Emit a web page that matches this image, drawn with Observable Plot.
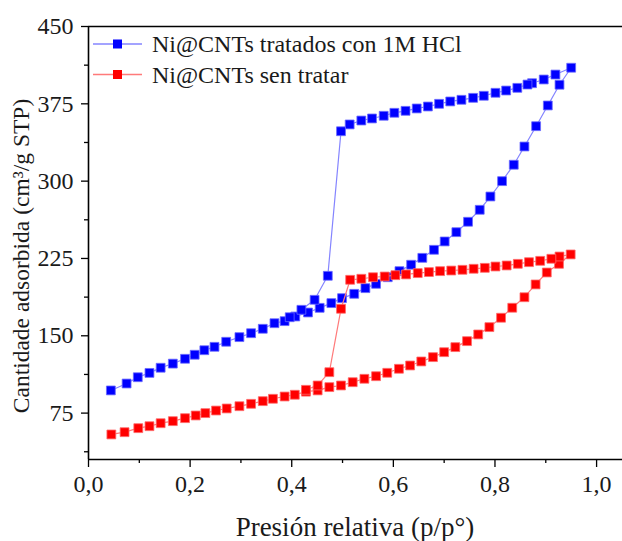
<!DOCTYPE html>
<html><head><meta charset="utf-8">
<script src="https://cdn.jsdelivr.net/npm/d3@7"></script>
<script src="https://cdn.jsdelivr.net/npm/@observablehq/plot@0.6"></script>
<style>body{margin:0;background:#fff;} #chart{width:622px;height:541px;}</style>
</head><body><div id="chart"></div>
<script>
const seriesNames = ["Ni@CNTs tratados con 1M HCl", "Ni@CNTs sen tratar"];
const seriesColors = ["#0000ff", "#ff0000"];
const lineColors = ["#8484ff", "#ff7a7a"];

// Treated sample: adsorption then desorption (path order)
const treatedP = [0.044,0.075,0.097,0.12,0.142,0.166,0.19,0.209,0.228,0.248,0.271,0.297,0.32,0.343,0.366,0.386,0.407,0.432,0.455,0.478,0.499,0.523,0.545,0.566,0.589,0.612,0.635,0.657,0.68,0.701,0.724,0.747,0.77,0.791,0.814,0.837,0.858,0.881,0.904,0.927,0.95,
  0.919,0.896,0.873,0.864,0.844,0.822,0.801,0.778,0.757,0.734,0.712,0.69,0.668,0.646,0.624,0.602,0.581,0.558,0.537,0.514,0.497,0.471,0.445,0.419,0.396];
const treatedV = [97,103.7,109.8,114,119,123,127.7,131.6,136,139.3,144.2,148.7,152.5,156.8,162.2,164.2,168.7,172.6,177.1,181.7,186.5,190.7,196.2,200.4,206.8,212.7,218.9,225.6,233.4,241.5,250.5,260.6,272.2,285.1,300,315.9,333.6,353.3,373.4,393.5,410,
  403.4,398.6,395,393.7,390.5,387.9,385.7,382.8,380.8,378.9,377.3,375,372.4,370.5,368.2,366.3,363.4,360.8,358.8,355,348.4,208.2,184.9,175.2,168];

// Untreated sample: adsorption then desorption (path order)
const untreatedP = [0.045,0.071,0.098,0.12,0.142,0.166,0.19,0.211,0.23,0.251,0.272,0.297,0.32,0.343,0.363,0.386,0.406,0.428,0.451,0.474,0.497,0.52,0.543,0.566,0.588,0.611,0.633,0.655,0.678,0.7,0.722,0.745,0.767,0.789,0.812,0.834,0.858,0.88,0.902,0.926,0.949,
  0.927,0.911,0.889,0.867,0.845,0.823,0.801,0.78,0.758,0.736,0.714,0.692,0.67,0.648,0.625,0.604,0.583,0.56,0.537,0.515,0.497,0.474,0.451,0.428];
const untreatedV = [54.3,56.5,60.4,62.3,65.2,67.2,70.1,72.7,75,77.5,79.5,81.7,84,86.6,88.9,91.1,92.8,95.8,97,100.2,101.8,105,108.3,110.8,114.1,118,121.2,125.1,129.3,134.1,139,144.8,151.3,158.4,167.5,177.2,187.4,199.8,211.4,219.8,228.9,
  226.9,224.7,222.7,221.4,219.8,218.2,217.2,215.9,215,214,213.3,212.7,211.8,210.8,209.5,208.8,207.5,206.8,205.3,204.3,176.2,114.7,101.8,97.6];

const xMajorTicks = [0, 0.2, 0.4, 0.6, 0.8, 1.0];
const xMinorTicks = [0.1, 0.3, 0.5, 0.7, 0.9];
const yMajorTicks = [75, 150, 225, 300, 375, 450];
const yMinorTicks = [37.5, 112.5, 187.5, 262.5, 337.5, 412.5];
const xTitle = "Presión relativa (p/p°)";
const yTitle = "Cantidade adsorbida (cm³/g STP)";

const treated = treatedP.map((p, i) => ({p, v: treatedV[i]}));
const untreated = untreatedP.map((p, i) => ({p, v: untreatedV[i]}));
const font = "Liberation Serif, Times New Roman, serif";
const fmt = d => d.toFixed(1).replace(".", ",");

const plot = Plot.plot({
  width: 622, height: 541,
  marginLeft: 88, marginRight: 0, marginTop: 26, marginBottom: 82,
  style: {fontFamily: font, fontSize: "24px", color: "#1a1a1a", background: "#fff", overflow: "visible"},
  x: {domain: [0, 1.051]},
  y: {domain: [30, 450]},
  marks: [
    Plot.axisX({ticks: xMajorTicks, tickSize: 8, tickPadding: 7, tickFormat: fmt, label: null, stroke: "#000", strokeWidth: 1.3, fontSize: 24}),
    Plot.axisX({ticks: xMinorTicks, tickSize: 4, tickFormat: () => "", label: null, stroke: "#000", strokeWidth: 1.3}),
    Plot.axisY({ticks: yMajorTicks, tickSize: 7, tickPadding: 8, label: null, stroke: "#000", strokeWidth: 1.3, fontSize: 24}),
    Plot.axisY({ticks: yMinorTicks, tickSize: 4, tickFormat: () => "", label: null, stroke: "#000", strokeWidth: 1.3}),
    Plot.ruleX([0], {stroke: "#000", strokeWidth: 1.6}),
    Plot.ruleY([30], {stroke: "#000", strokeWidth: 1.6}),
    Plot.ruleY([450], {stroke: "#000", strokeWidth: 1.6}),
    Plot.line(treated, {x: "p", y: "v", stroke: lineColors[0], strokeWidth: 1.2, curve: "linear"}),
    Plot.dot(treated, {x: "p", y: "v", symbol: "square", r: 5, fill: seriesColors[0], stroke: "#6a6aff", strokeWidth: 0.8}),
    Plot.line(untreated, {x: "p", y: "v", stroke: lineColors[1], strokeWidth: 1.2, curve: "linear"}),
    Plot.dot(untreated, {x: "p", y: "v", symbol: "square", r: 5, fill: seriesColors[1], stroke: "#ff6a6a", strokeWidth: 0.8})
  ]
});

const svg = d3.select(plot);
// Axis titles
svg.append("text").attr("x", 355).attr("y", 536).attr("text-anchor", "middle")
  .attr("font-family", font).attr("font-size", 27).attr("fill", "#1a1a1a").text(xTitle);
svg.append("text").attr("transform", "translate(29,256) rotate(-90)").attr("text-anchor", "middle")
  .attr("font-family", font).attr("font-size", 23.5).attr("fill", "#1a1a1a").text(yTitle);
// Legend
const lg = svg.append("g").attr("text-anchor", "start");
seriesNames.forEach((name, i) => {
  const cy = 44 + i * 30.5;
  lg.append("line").attr("x1", 93).attr("x2", 142).attr("y1", cy).attr("y2", cy)
    .attr("stroke", lineColors[i]).attr("stroke-width", 1.4);
  lg.append("rect").attr("x", 113).attr("y", cy - 4.5).attr("width", 9).attr("height", 9)
    .attr("fill", seriesColors[i]);
  lg.append("text").attr("x", 152).attr("y", cy + 8).attr("text-anchor", "start").attr("font-family", font)
    .attr("font-size", 24).attr("fill", "#1a1a1a").text(name);
});
document.getElementById("chart").appendChild(plot);
</script>
</body></html>
